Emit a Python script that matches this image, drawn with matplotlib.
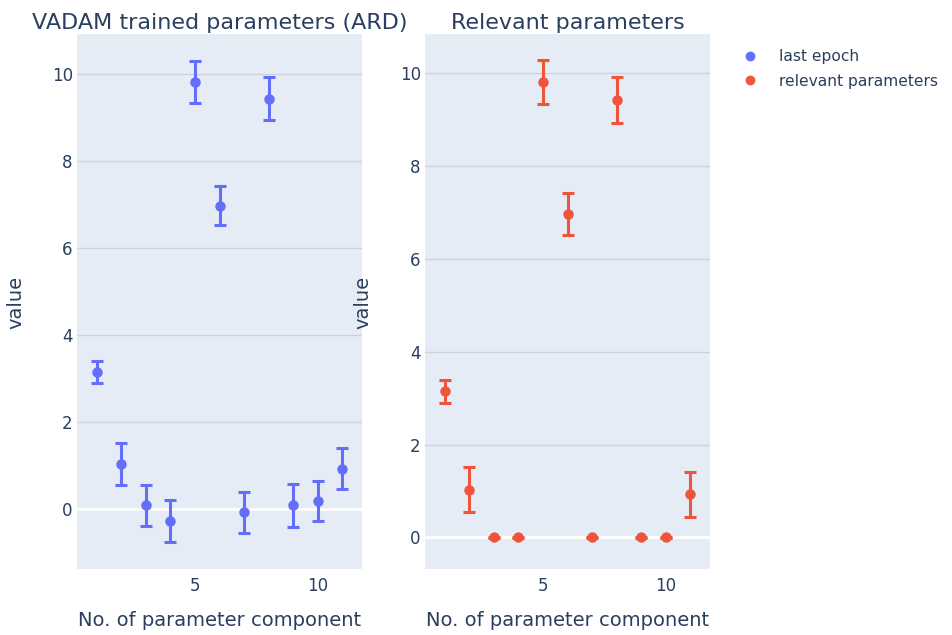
import numpy as np
import matplotlib
matplotlib.use("Agg")
import matplotlib.pyplot as plt
from matplotlib.lines import Line2D

plt.rcParams["font.family"] = ["DejaVu Sans"]

# Data
component = [1, 2, 3, 4, 5, 6, 7, 8, 9, 10, 11]
last_epoch = [3.15, 1.03, 0.08, -0.28, 9.82, 6.97, -0.08, 9.43, 0.08, 0.18, 0.93]
last_epoch_err = [0.25, 0.49, 0.46, 0.49, 0.48, 0.45, 0.48, 0.49, 0.49, 0.46, 0.48]
relevant = [3.15, 1.03, 0.0, 0.0, 9.82, 6.97, 0.0, 9.43, 0.0, 0.0, 0.93]
relevant_err = [0.25, 0.49, 0.02, 0.02, 0.48, 0.45, 0.02, 0.49, 0.02, 0.02, 0.48]

BLUE = "#636efa"
RED = "#ef553b"
BG = "#e5ecf6"
TXT = "#2a3f5f"
GRID = "#cfd3d9"

W, H = 952, 635
fig = plt.figure(figsize=(W / 100, H / 100), dpi=100)


def px_axes(x0, x1, y0, y1):
    return fig.add_axes([x0 / W, 1 - y1 / H, (x1 - x0) / W, (y1 - y0) / H])


ax1 = px_axes(77, 362, 34, 569)
ax2 = px_axes(425, 710, 34, 569)

panels = [
    (ax1, last_epoch, last_epoch_err, BLUE, (-1.38, 10.92), "VADAM trained parameters (ARD)", 16),
    (ax2, relevant, relevant_err, RED, (-0.68, 10.85), "Relevant parameters", 363),
]

for ax, vals, errs, col, ylim, title, ylab_x in panels:
    ax.set_facecolor(BG)
    for s in ax.spines.values():
        s.set_visible(False)
    ax.errorbar(component, vals, yerr=errs, fmt="o", color=col, markersize=6.5,
                elinewidth=2.2, capsize=4, capthick=2.2, zorder=4)
    ax.set_xlim(0.2, 11.8)
    ax.set_ylim(*ylim)
    ax.set_xticks([5, 10])
    ax.set_yticks([0, 2, 4, 6, 8, 10])
    ax.grid(axis="y", color=GRID, linewidth=1, zorder=0)
    ax.set_axisbelow(True)
    ax.axhline(0, color="white", linewidth=2, zorder=1)
    ax.tick_params(axis="y", length=0, labelsize=12, colors=TXT, pad=3)
    ax.tick_params(axis="x", length=0, labelsize=12, colors=TXT, pad=6)
    pos = ax.get_position()
    cx = (pos.x0 + pos.x1) / 2
    fig.text(cx, 1 - 29 / H, title, ha="center", va="baseline", fontsize=16, color=TXT)
    fig.text(cx, 1 - 626 / H, "No. of parameter component", ha="center",
             va="baseline", fontsize=14, color=TXT)
    fig.text(ylab_x / W, 1 - 302 / H, "value", ha="center", va="center",
             rotation=90, fontsize=14, color=TXT)

handles = [
    Line2D([], [], marker="o", linestyle="", color=BLUE, markersize=6),
    Line2D([], [], marker="o", linestyle="", color=RED, markersize=6),
]
fig.legend(handles, ["last epoch", "relevant parameters"], loc="upper left",
           bbox_to_anchor=(728 / W, 1 - 43 / H), frameon=False, fontsize=11.2,
           labelcolor=TXT, handletextpad=0.85, labelspacing=0.6, borderaxespad=0)

fig.savefig("out.png", dpi=100, facecolor="white")
